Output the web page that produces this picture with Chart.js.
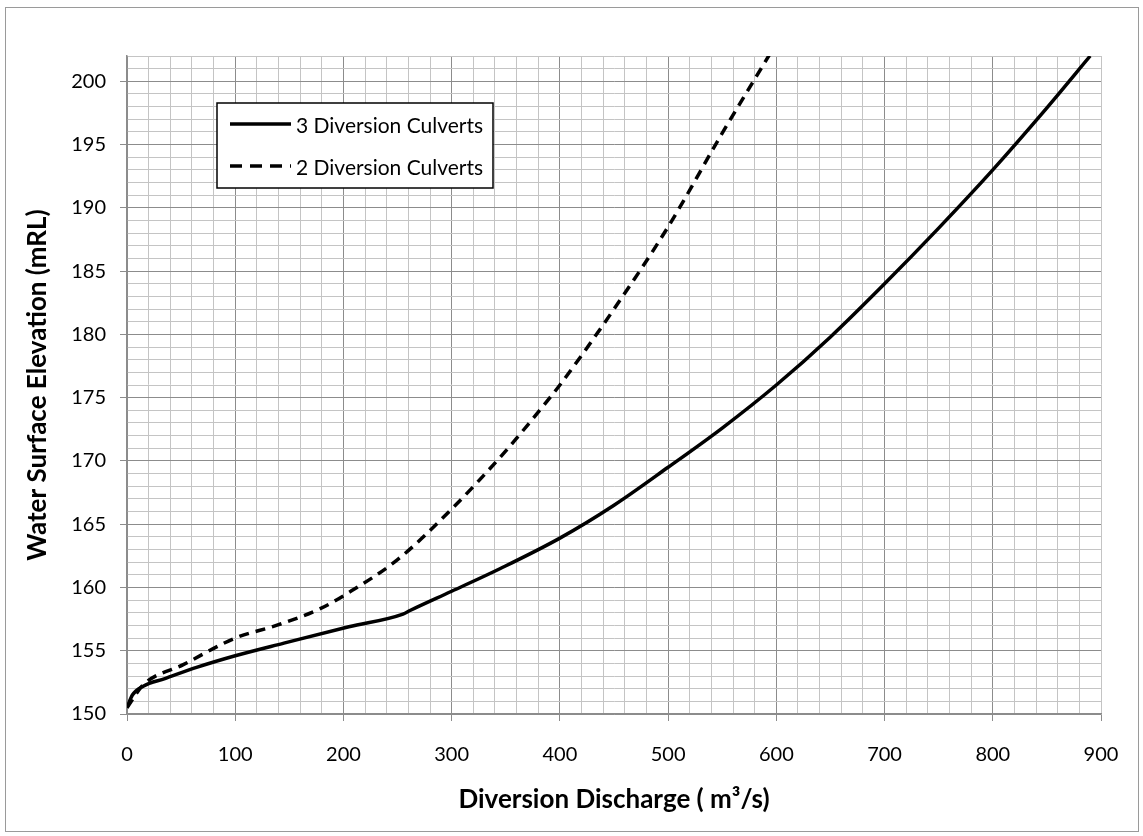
<!DOCTYPE html>
<html>
<head>
<meta charset="utf-8">
<title>Diversion Rating Curves</title>
<script src="https://cdn.jsdelivr.net/npm/chart.js@4"></script>
<style>
  html, body { margin: 0; padding: 0; background: #fff; }
  #wrap { width: 1143px; height: 836px; position: relative; }
</style>
</head>
<body>
<div id="wrap"><canvas id="ratingChart"></canvas></div>
<script>
// Rating curve data (discharge in m3/s, elevation in mRL)
const discharge3 = [0, 5, 15, 35, 65, 100, 145, 205, 255, 262, 300, 345, 400, 450, 500, 550, 600, 650, 700, 750, 800, 850, 890];
const elevation3 = [150.5, 151.5, 152.2, 152.8, 153.7, 154.6, 155.6, 156.9, 157.9, 158.2, 159.7, 161.5, 163.9, 166.5, 169.5, 172.6, 176.0, 179.8, 184.0, 188.4, 193.0, 197.9, 202.0];

const discharge2 = [0, 15, 52, 100, 138, 178, 203, 250, 300, 348, 388, 400, 450, 500, 550, 595];
const elevation2 = [150.5, 152.3, 153.9, 156.0, 157.0, 158.3, 159.5, 162.2, 166.2, 170.6, 174.7, 176.0, 182.0, 188.5, 195.9, 202.3];

const seriesLabels = ["3 Diversion Culverts", "2 Diversion Culverts"];

const xMin = 0, xMax = 900, xStep = 20, xMajor = 100;
const yMin = 150, yMax = 202, yStep = 1, yMajor = 5;

const MAJOR = "#8c8c8c";
const MINOR = "#c4c4c4";
const FONT = "Lato, 'Open Sans', sans-serif";

function toPoints(xs, ys) {
  return xs.map((x, i) => ({ x: x, y: ys[i] }));
}

// outer frame + white background
const framePlugin = {
  id: "frame",
  beforeDraw(chart) {
    const c = chart.ctx;
    c.save();
    c.fillStyle = "#fff";
    c.fillRect(0, 0, chart.width, chart.height);
    c.strokeStyle = "#9a9a9a";
    c.lineWidth = 1;
    c.strokeRect(5.5, 7.5, 1133, 824);
    c.restore();
  }
};

// boxed legend sitting inside the plot area
const boxLegend = {
  id: "boxLegend",
  afterDatasetsDraw(chart) {
    const c = chart.ctx;
    const x0 = 217, y0 = 103, w = 276, h = 85;
    c.save();
    c.fillStyle = "#fff";
    c.fillRect(x0, y0, w, h);
    c.strokeStyle = "#000";
    c.lineWidth = 1.5;
    c.strokeRect(x0, y0, w, h);
    chart.data.datasets.forEach((ds, i) => {
      const y = y0 + 21 + i * 42;
      c.beginPath();
      c.setLineDash(ds.borderDash ? [12, 8] : []);
      c.lineWidth = ds.borderWidth;
      c.strokeStyle = ds.borderColor;
      c.moveTo(x0 + 13, y);
      c.lineTo(x0 + 74, y);
      c.stroke();
      c.setLineDash([]);
      c.fillStyle = "#000";
      c.font = "21px " + FONT;
      c.textBaseline = "middle";
      c.fillText(ds.label, x0 + 79, y + 2);
    });
    c.restore();
  }
};

new Chart(document.getElementById("ratingChart"), {
  type: "line",
  data: {
    datasets: [
      {
        label: seriesLabels[0],
        data: toPoints(discharge3, elevation3),
        borderColor: "#000",
        borderWidth: 3.5,
        pointRadius: 0,
        cubicInterpolationMode: "monotone",
        fill: false
      },
      {
        label: seriesLabels[1],
        data: toPoints(discharge2, elevation2),
        borderColor: "#000",
        borderWidth: 3.5,
        borderDash: [10, 7],
        pointRadius: 0,
        cubicInterpolationMode: "monotone",
        fill: false
      }
    ]
  },
  options: {
    responsive: true,
    maintainAspectRatio: false,
    animation: false,
    layout: { padding: { left: 0, top: 56, right: 42, bottom: 0 } },
    plugins: {
      legend: { display: false },
      tooltip: { enabled: false }
    },
    scales: {
      x: {
        type: "linear",
        min: xMin,
        max: xMax,
        grid: {
          color: ctx => (ctx.tick && ctx.tick.value % xMajor === 0 && ctx.tick.value !== xMax) ? MAJOR : MINOR,
          lineWidth: 1,
          tickLength: 7,
          tickColor: ctx => (ctx.tick && ctx.tick.value % xMajor === 0) ? MAJOR : "rgba(0,0,0,0)"
        },
        border: { color: MAJOR, width: 1.5 },
        ticks: {
          stepSize: xStep,
          autoSkip: false,
          maxTicksLimit: 1000,
          maxRotation: 0,
          padding: 22,
          color: "#000",
          font: { family: FONT, size: 20 },
          callback: v => (v % xMajor === 0 ? String(v) : "")
        },
        title: {
          display: true,
          text: "Diversion Discharge ( m\u00b3/s)",
          color: "#000",
          font: { family: FONT, size: 26, weight: "bold" },
          padding: { top: 0, bottom: 21 }
        },
        afterFit(scale) { scale.height = 836 - 714; }
      },
      y: {
        type: "linear",
        min: yMin,
        max: yMax,
        grid: {
          color: ctx => (ctx.tick && ctx.tick.value % yMajor === 0) ? MAJOR : MINOR,
          lineWidth: 1,
          tickLength: 7,
          tickColor: ctx => (ctx.tick && ctx.tick.value % yMajor === 0) ? MAJOR : "rgba(0,0,0,0)"
        },
        border: { color: MAJOR, width: 1.5 },
        ticks: {
          stepSize: yStep,
          autoSkip: false,
          maxTicksLimit: 1000,
          padding: 14,
          color: "#000",
          font: { family: FONT, size: 20 },
          callback: v => (v % yMajor === 0 ? String(v) : "")
        },
        title: {
          display: true,
          text: "Water Surface Elevation (mRL)",
          color: "#000",
          font: { family: FONT, size: 26, weight: "bold" },
          padding: { top: 22, bottom: 0 }
        },
        afterFit(scale) { scale.width = 127; }
      }
    }
  },
  plugins: [framePlugin, boxLegend]
});
</script>
</body>
</html>
